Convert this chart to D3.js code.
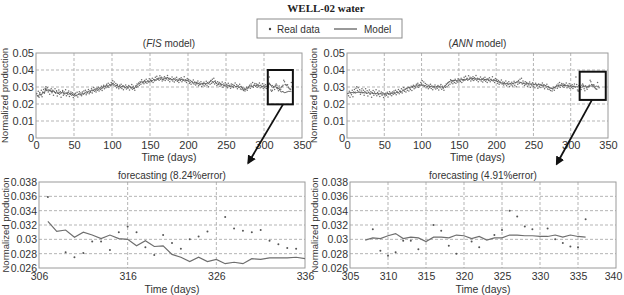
<!DOCTYPE html>
<html>
<head>
<meta charset="utf-8">
<script src="https://cdn.jsdelivr.net/npm/d3@7"></script>
<style>
    body { margin: 0; background: #fff; }
</style>
</head>
<body>
<div id="chart"></div>
<script>
// Real data, one value per day starting at day 1
const realData = [
    0.0262,0.0248,0.0275,0.0239,0.0268,0.0255,0.0281,0.0243,0.0270,0.0286,
    0.0264,0.0292,0.0301,0.0279,0.0296,0.0270,0.0284,0.0258,0.0277,0.0289,
    0.0266,0.0281,0.0252,0.0274,0.0290,0.0263,0.0278,0.0247,0.0269,0.0283,
    0.0258,0.0272,0.0240,0.0266,0.0279,0.0252,0.0270,0.0261,0.0284,0.0249,
    0.0267,0.0256,0.0276,0.0244,0.0262,0.0271,0.0251,0.0266,0.0238,0.0259,
    0.0247,0.0263,0.0252,0.0269,0.0241,0.0258,0.0272,0.0255,0.0264,0.0249,
    0.0270,0.0258,0.0276,0.0262,0.0281,0.0254,0.0273,0.0266,0.0285,0.0260,
    0.0278,0.0269,0.0289,0.0264,0.0283,0.0297,0.0275,0.0288,0.0270,0.0293,
    0.0281,0.0299,0.0276,0.0294,0.0286,0.0304,0.0279,0.0298,0.0310,0.0289,
    0.0306,0.0295,0.0316,0.0301,0.0322,0.0298,0.0313,0.0307,0.0326,0.0318,
    0.0337,0.0312,0.0329,0.0305,0.0321,0.0296,0.0314,0.0302,0.0289,0.0310,
    0.0297,0.0316,0.0291,0.0306,0.0284,0.0303,0.0295,0.0312,0.0288,0.0300,
    0.0292,0.0309,0.0283,0.0301,0.0296,0.0315,0.0287,0.0305,0.0293,0.0281,
    0.0306,0.0298,0.0317,0.0302,0.0324,0.0311,0.0331,0.0316,0.0342,0.0325,
    0.0333,0.0319,0.0338,0.0327,0.0345,0.0322,0.0336,0.0330,0.0348,0.0329,
    0.0341,0.0333,0.0352,0.0326,0.0344,0.0337,0.0357,0.0339,0.0363,0.0346,
    0.0351,0.0340,0.0366,0.0345,0.0358,0.0335,0.0353,0.0342,0.0361,0.0338,
    0.0355,0.0347,0.0368,0.0340,0.0352,0.0331,0.0349,0.0343,0.0359,0.0336,
    0.0348,0.0329,0.0352,0.0340,0.0357,0.0334,0.0345,0.0326,0.0349,0.0338,
    0.0354,0.0331,0.0346,0.0339,0.0361,0.0335,0.0342,0.0327,0.0350,0.0337,
    0.0344,0.0322,0.0338,0.0316,0.0333,0.0325,0.0341,0.0318,0.0330,0.0312,
    0.0327,0.0319,0.0336,0.0308,0.0324,0.0315,0.0331,0.0303,0.0321,0.0312,
    0.0328,0.0306,0.0319,0.0334,0.0311,0.0325,0.0302,0.0329,0.0316,0.0338,
    0.0322,0.0345,0.0327,0.0351,0.0318,0.0336,0.0324,0.0309,0.0331,0.0315,
    0.0326,0.0304,0.0321,0.0312,0.0330,0.0299,0.0317,0.0308,0.0325,0.0301,
    0.0315,0.0296,0.0322,0.0306,0.0311,0.0293,0.0318,0.0302,0.0314,0.0297,
    0.0309,0.0324,0.0301,0.0313,0.0290,0.0307,0.0298,0.0316,0.0288,0.0303,
    0.0285,0.0296,0.0279,0.0292,0.0276,0.0288,0.0299,0.0281,0.0294,0.0302,
    0.0310,0.0293,0.0318,0.0304,0.0326,0.0298,0.0312,0.0321,0.0305,0.0317,
    0.0299,0.0314,0.0308,0.0323,0.0296,0.0311,0.0302,0.0319,0.0293,0.0307,
    0.0298,0.0313,0.0291,0.0305,0.0318,0.0300,0.0359,0.0314,0.0282,0.0275,
    0.0281,0.0297,0.0297,0.0285,0.0310,0.0318,0.0310,0.0289,0.0278,0.0306,
    0.0295,0.0287,0.0300,0.0304,0.0311,0.0340,0.0331,0.0315,0.0312,0.0310,
    0.0313,0.0298,0.0293,0.0288,0.0287,0.0327,0.0305,0.0296
];

// Model outputs on the training period, one value every 2 days from day 1
const fisModel = [
    0.0255,0.0243,0.0262,0.0251,0.0270,0.0263,0.0292,0.0281,0.0276,0.0283,
    0.0270,0.0278,0.0265,0.0273,0.0259,0.0268,0.0262,0.0274,0.0257,0.0266,
    0.0260,0.0268,0.0254,0.0262,0.0250,0.0257,0.0247,0.0255,0.0261,0.0253,
    0.0264,0.0258,0.0270,0.0263,0.0275,0.0268,0.0282,0.0276,0.0287,0.0279,
    0.0291,0.0285,0.0297,0.0290,0.0305,0.0299,0.0311,0.0303,0.0316,0.0309,
    0.0324,0.0314,0.0306,0.0311,0.0299,0.0306,0.0301,0.0308,0.0296,0.0302,
    0.0297,0.0304,0.0292,0.0300,0.0288,0.0303,0.0310,0.0318,0.0324,0.0331,
    0.0326,0.0334,0.0328,0.0337,0.0331,0.0340,0.0336,0.0346,0.0339,0.0351,
    0.0344,0.0356,0.0349,0.0342,0.0353,0.0347,0.0358,0.0344,0.0350,0.0341,
    0.0348,0.0339,0.0345,0.0336,0.0343,0.0347,0.0338,0.0344,0.0335,0.0340,
    0.0332,0.0327,0.0334,0.0322,0.0329,0.0318,0.0325,0.0313,0.0320,0.0316,
    0.0323,0.0314,0.0326,0.0319,0.0332,0.0337,0.0328,0.0334,0.0322,0.0316,
    0.0321,0.0311,0.0316,0.0307,0.0313,0.0304,0.0310,0.0301,0.0307,0.0303,
    0.0309,0.0300,0.0306,0.0297,0.0303,0.0292,0.0286,0.0283,0.0289,0.0295,
    0.0301,0.0308,0.0303,0.0310,0.0306,0.0312,0.0304,0.0309,0.0301,0.0306,
    0.0299,0.0304,0.0300
];
const annModel = [
    0.0262,0.0266,0.0264,0.0268,0.0265,0.0270,0.0267,0.0271,0.0268,0.0266,
    0.0269,0.0265,0.0267,0.0263,0.0266,0.0262,0.0265,0.0261,0.0263,0.0260,
    0.0263,0.0259,0.0261,0.0258,0.0260,0.0257,0.0259,0.0262,0.0260,0.0264,
    0.0262,0.0267,0.0265,0.0270,0.0268,0.0274,0.0272,0.0279,0.0283,0.0288,
    0.0293,0.0297,0.0295,0.0301,0.0306,0.0302,0.0309,0.0312,0.0307,0.0313,
    0.0310,0.0306,0.0309,0.0303,0.0307,0.0302,0.0305,0.0299,0.0303,0.0300,
    0.0304,0.0301,0.0306,0.0300,0.0297,0.0303,0.0312,0.0322,0.0331,0.0336,
    0.0339,0.0335,0.0340,0.0337,0.0342,0.0338,0.0344,0.0341,0.0346,0.0343,
    0.0348,0.0345,0.0350,0.0347,0.0351,0.0346,0.0349,0.0344,0.0347,0.0343,
    0.0346,0.0342,0.0345,0.0341,0.0344,0.0340,0.0343,0.0339,0.0341,0.0337,
    0.0334,0.0330,0.0327,0.0324,0.0322,0.0320,0.0318,0.0321,0.0317,0.0320,
    0.0318,0.0322,0.0325,0.0328,0.0331,0.0329,0.0326,0.0323,0.0320,0.0318,
    0.0321,0.0317,0.0319,0.0315,0.0318,0.0314,0.0316,0.0312,0.0314,0.0311,
    0.0313,0.0309,0.0311,0.0306,0.0302,0.0297,0.0293,0.0291,0.0294,0.0299,
    0.0304,0.0308,0.0311,0.0309,0.0312,0.0308,0.0310,0.0306,0.0308,0.0304,
    0.0306,0.0302,0.0304
];

// Forecast period
const forecastDays = [307,308,309,310,311,312,313,314,315,316,317,318,319,320,321,
    322,323,324,325,326,327,328,329,330,331,332,333,334,335,336];
const fisForecast = [0.0325,0.0311,0.0313,0.0303,0.0310,0.0306,0.0301,0.0306,0.0301,0.0300,
    0.0291,0.0298,0.0290,0.0291,0.0279,0.0275,0.0269,0.0275,0.0269,0.0272,
    0.0266,0.0268,0.0266,0.0273,0.0272,0.0274,0.0274,0.0274,0.0275,0.0273];
const annForecast = [0.0299,0.0302,0.0301,0.0305,0.0308,0.0301,0.0303,0.0302,0.0297,0.0303,
    0.0303,0.0302,0.0306,0.0305,0.0301,0.0304,0.0299,0.0302,0.0302,0.0306,
    0.0306,0.0305,0.0305,0.0304,0.0304,0.0306,0.0303,0.0306,0.0304,0.0303];

// Real data points shown in the forecast panels
const fisRealDays = [307,309,310,311,312,313,314,315,316,317,318,319,320,321,322,323,324,325,327,328,329,330,331,332,333,334,335];
const fisRealVals = [0.0359,0.0282,0.0275,0.0281,0.0297,0.0297,0.0285,0.0310,0.0318,0.0310,0.0289,0.0278,0.0306,0.0295,
    0.0287,0.0300,0.0304,0.0311,0.0331,0.0315,0.0312,0.0310,0.0313,0.0298,0.0293,0.0288,0.0287];
const annRealDays = [308,309,310,311,312,313,314,316,317,318,319,321,322,324,325,326,327,328,329,331,332,333,334,335,336];
const annRealVals = [0.0314,0.0284,0.0277,0.0282,0.0298,0.0298,0.0286,0.0320,0.0312,0.0291,0.0280,0.0297,0.0289,
    0.0306,0.0313,0.0340,0.0332,0.0318,0.0314,0.0315,0.0300,0.0295,0.0290,0.0289,0.0328];

// Axis ticks
const topXTicks = [0,50,100,150,200,250,300,350];
const topYTicks = [0,0.01,0.02,0.03,0.04,0.05];
const fcYTicks = [0.026,0.028,0.030,0.032,0.034,0.036,0.038];
const fisXTicks = [306,316,326,336];
const annXTicks = [305,310,315,320,325,330,335,340];

const titleText = "WELL-02 water";
const legendLabels = ["Real data", "Model"];

const FONT = "'Liberation Sans', Arial, sans-serif";
const width = 624, height = 295;
const svg = d3.select("#chart").append("svg")
    .attr("width", width)
    .attr("height", height)
    .style("font-family", FONT);

const fmt = d => String(+d.toFixed(3));

function panel(cfg) {
    let p = {};
    p.g = svg.append("g");
    p.x = d3.scaleLinear().domain(cfg.xDomain).range([cfg.left, cfg.right]);
    p.y = d3.scaleLinear().domain(cfg.yDomain).range([cfg.bottom, cfg.top]);

    // grid
    p.g.selectAll(".vgrid")
        .data(cfg.xTicks.filter(d => d > cfg.xDomain[0] && d < cfg.xDomain[1]))
        .join("line")
        .attr("x1", d => p.x(d)).attr("x2", d => p.x(d))
        .attr("y1", cfg.top).attr("y2", cfg.bottom)
        .attr("stroke", "#b5b5b5")
        .attr("stroke-dasharray", "3,2");
    p.g.selectAll(".hgrid")
        .data(cfg.yTicks.filter(d => d > cfg.yDomain[0] && d < cfg.yDomain[1]))
        .join("line")
        .attr("x1", cfg.left).attr("x2", cfg.right)
        .attr("y1", d => p.y(d)).attr("y2", d => p.y(d))
        .attr("stroke", "#b5b5b5")
        .attr("stroke-dasharray", "3,2");

    // frame
    p.g.append("rect")
        .attr("x", cfg.left).attr("y", cfg.top)
        .attr("width", cfg.right - cfg.left).attr("height", cfg.bottom - cfg.top)
        .attr("fill", "none").attr("stroke", "#9a9a9a");

    // axes
    let xAxis = d3.axisBottom(p.x).tickValues(cfg.xTicks).tickSize(0).tickPadding(cfg.xPad).tickFormat(fmt);
    let yAxis = d3.axisLeft(p.y).tickValues(cfg.yTicks).tickSize(0).tickPadding(2).tickFormat(fmt);
    p.g.append("g")
        .attr("transform", "translate(0," + cfg.bottom + ")")
        .call(xAxis)
        .attr("font-family", FONT)
        .attr("font-size", cfg.xFont)
        .call(s => s.select(".domain").remove())
        .selectAll("text").attr("fill", "#333")
        .attr("dx", (d, i) => (cfg.lastDx && i === cfg.xTicks.length - 1) ? cfg.lastDx : 0);
    p.g.append("g")
        .attr("transform", "translate(" + cfg.left + ",0)")
        .call(yAxis)
        .attr("font-family", FONT)
        .attr("font-size", cfg.yFont)
        .call(s => s.select(".domain").remove())
        .selectAll("text").attr("fill", "#333");

    // axis titles
    p.g.append("text")
        .attr("x", (cfg.left + cfg.right) / 2)
        .attr("y", cfg.bottom + cfg.xTitleOff)
        .attr("text-anchor", "middle")
        .attr("font-size", 10.5)
        .attr("fill", "#333")
        .text("Time (days)");
    p.g.append("text")
        .attr("transform", "translate(" + cfg.yLabelX + "," + (cfg.top + cfg.bottom) / 2 + ") rotate(-90)")
        .attr("text-anchor", "middle")
        .attr("font-size", 9.5)
        .attr("fill", "#333")
        .text("Normalized production");
    return p;
}

// Title
svg.append("text")
    .attr("x", 326).attr("y", 12)
    .attr("text-anchor", "middle")
    .style("font-family", "'Liberation Serif', 'DejaVu Serif', serif")
    .attr("font-weight", "bold")
    .attr("font-size", 11)
    .attr("fill", "#222")
    .text(titleText);

// Legend
let legend = svg.append("g");
legend.append("rect")
    .attr("x", 257).attr("y", 19).attr("width", 145).attr("height", 19)
    .attr("fill", "#fff").attr("stroke", "#8c8c8c");
legend.append("circle").attr("cx", 270).attr("cy", 29).attr("r", 1.2).attr("fill", "#444");
legend.append("text").attr("x", 277).attr("y", 32.5).attr("font-size", 10).attr("fill", "#333").text(legendLabels[0]);
legend.append("line").attr("x1", 334).attr("x2", 357).attr("y1", 29).attr("y2", 29)
    .attr("stroke", "#555").attr("stroke-width", 1.2);
legend.append("text").attr("x", 364).attr("y", 32.5).attr("font-size", 10).attr("fill", "#333").text(legendLabels[1]);

// Top panels
const topFis = panel({ left: 36, right: 302, top: 53, bottom: 138, xDomain: [0, 350], yDomain: [0, 0.05],
    xTicks: topXTicks, yTicks: topYTicks, xFont: 11, yFont: 11, xPad: 3, xTitleOff: 23, yLabelX: 8 });
const topAnn = panel({ left: 347, right: 608, top: 53, bottom: 138, xDomain: [0, 350], yDomain: [0, 0.05],
    xTicks: topXTicks, yTicks: topYTicks, xFont: 11, yFont: 11, xPad: 3, xTitleOff: 23, yLabelX: 317 });
const fcFis = panel({ left: 39, right: 305, top: 182, bottom: 268, xDomain: [306, 336], yDomain: [0.026, 0.038],
    xTicks: fisXTicks, yTicks: fcYTicks, xFont: 10.5, yFont: 10.5, xPad: 4.5, xTitleOff: 25, yLabelX: 8.5 });
const fcAnn = panel({ left: 350, right: 616, top: 182, bottom: 268, xDomain: [305, 340], yDomain: [0.026, 0.038],
    xTicks: annXTicks, yTicks: fcYTicks, xFont: 10.5, yFont: 10.5, xPad: 4.5, xTitleOff: 25, yLabelX: 318,
    lastDx: -3 });

// Subplot titles
function subTitle(p, parts, y) {
    let t = svg.append("text")
        .attr("x", (p.x.range()[0] + p.x.range()[1]) / 2)
        .attr("y", y)
        .attr("text-anchor", "middle")
        .attr("font-size", 10)
        .attr("fill", "#333");
    parts.forEach(d => {
        t.append("tspan").attr("font-style", d.italic ? "italic" : "normal").text(d.text);
    });
}
subTitle(topFis, [{ text: "(" }, { text: "FIS", italic: true }, { text: " model)" }], 47);
subTitle(topAnn, [{ text: "(" }, { text: "ANN", italic: true }, { text: " model)" }], 47);
subTitle(fcFis, [{ text: "forecasting (8.24%error)" }], 179);
subTitle(fcAnn, [{ text: "forecasting (4.91%error)" }], 179);

// Top panels data
function drawTop(p, model, forecast) {
    let modelPts = model.map((v, i) => [1 + 2 * i, v])
        .concat(forecastDays.map((d, i) => [d, forecast[i]]));
    p.g.append("path")
        .datum(modelPts)
        .attr("fill", "none")
        .attr("stroke", "#4a4a4a")
        .attr("stroke-width", 0.9)
        .attr("d", d3.line().x(d => p.x(d[0])).y(d => p.y(d[1])));
    p.g.selectAll(".real")
        .data(realData)
        .join("circle")
        .attr("cx", (d, i) => p.x(i + 1))
        .attr("cy", d => p.y(d))
        .attr("r", 0.75)
        .attr("fill", "#6a6a6a");
}
drawTop(topFis, fisModel, fisForecast);
drawTop(topAnn, annModel, annForecast);

// Forecast panels data
function drawForecast(p, model, days, vals) {
    p.g.append("path")
        .datum(forecastDays.map((d, i) => [d, model[i]]))
        .attr("fill", "none")
        .attr("stroke", "#6e6e6e")
        .attr("stroke-width", 1.2)
        .attr("d", d3.line().x(d => p.x(d[0])).y(d => p.y(d[1])));
    p.g.selectAll(".real")
        .data(days)
        .join("circle")
        .attr("cx", d => p.x(d))
        .attr("cy", (d, i) => p.y(vals[i]))
        .attr("r", 1)
        .attr("fill", "#555");
}
drawForecast(fcFis, fisForecast, fisRealDays, fisRealVals);
drawForecast(fcAnn, annForecast, annRealDays, annRealVals);

// Zoom boxes on top panels
function zoomBox(p, x0, x1, y0, y1) {
    svg.append("rect")
        .attr("x", p.x(x0)).attr("y", p.y(y1))
        .attr("width", p.x(x1) - p.x(x0)).attr("height", p.y(y0) - p.y(y1))
        .attr("fill", "none").attr("stroke", "#111").attr("stroke-width", 2);
}
zoomBox(topFis, 305, 338, 0.0198, 0.040);
zoomBox(topAnn, 312, 347, 0.0224, 0.039);

// Arrows
svg.append("defs").append("marker")
    .attr("id", "head")
    .attr("viewBox", "0 0 10 10")
    .attr("refX", 8).attr("refY", 5)
    .attr("markerWidth", 5).attr("markerHeight", 5)
    .attr("orient", "auto")
    .append("path").attr("d", "M0,0L10,5L0,10z").attr("fill", "#111");
function arrow(from, to) {
    svg.append("line")
        .attr("x1", from[0]).attr("y1", from[1])
        .attr("x2", to[0]).attr("y2", to[1])
        .attr("stroke", "#111").attr("stroke-width", 1.8)
        .attr("marker-end", "url(#head)");
}
arrow([topFis.x(325), topFis.y(0.0198)], [fcFis.x(329.6), fcFis.y(0.038) - 19]);
arrow([topAnn.x(328.5), topAnn.y(0.0224)], [fcAnn.x(332.2), fcAnn.y(0.038) - 18]);
</script>
</body>
</html>
